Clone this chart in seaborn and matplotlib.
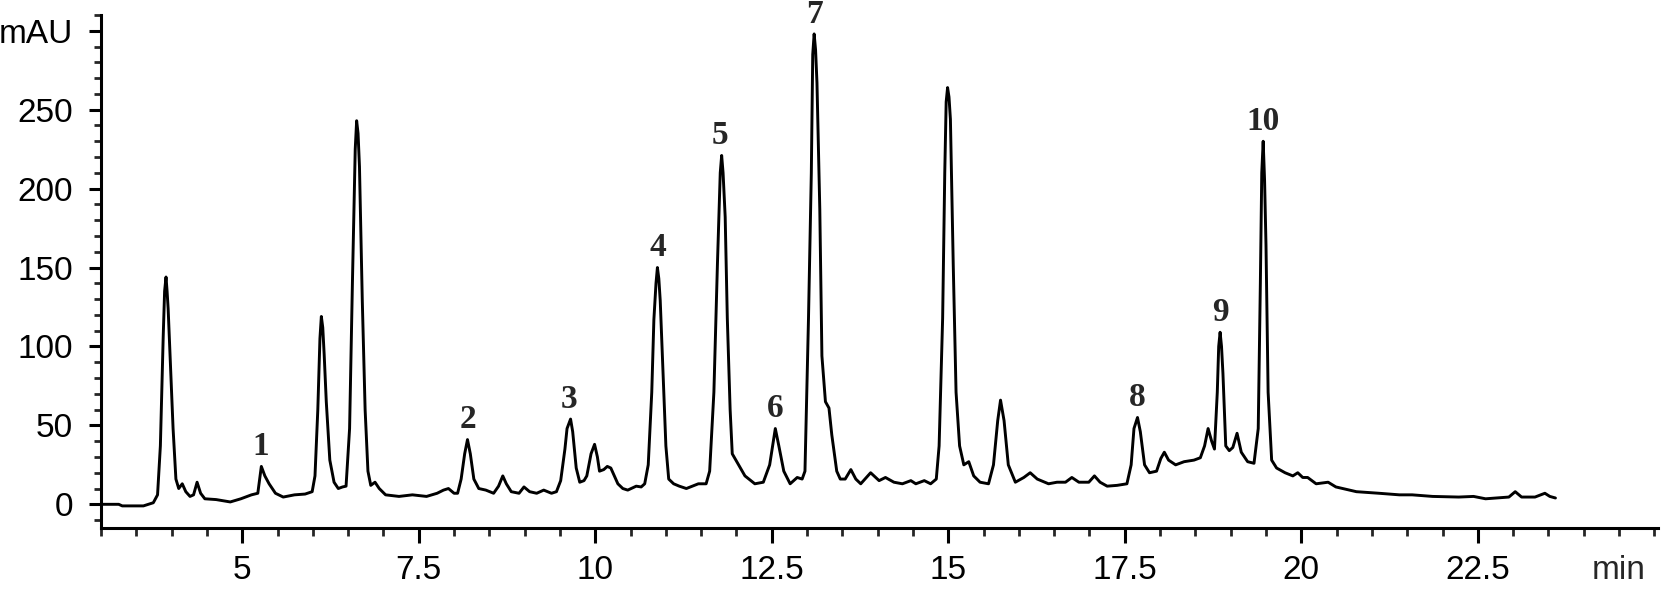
import matplotlib
matplotlib.use('Agg')
import pandas as pd
import matplotlib.pyplot as plt
from matplotlib.ticker import MultipleLocator, FixedLocator
import seaborn as sns

# chromatogram trace (retention time in min, signal in mAU)
time_min = [
    3.00, 3.25, 3.30, 3.60, 3.74, 3.80, 3.84, 3.88, 3.90, 3.92, 3.935, 3.95, 3.98, 4.02, 4.06, 4.10,
    4.15, 4.20, 4.26, 4.31, 4.36, 4.41, 4.47, 4.63, 4.83, 4.98, 5.13, 5.22, 5.27, 5.32,
    5.38, 5.47, 5.58, 5.74, 5.89, 5.99, 6.03, 6.07, 6.10, 6.12, 6.14, 6.16, 6.19, 6.24,
    6.30, 6.36, 6.42, 6.47, 6.52, 6.56, 6.60, 6.62, 6.64, 6.66, 6.70, 6.74, 6.78, 6.82, 6.88, 6.94, 7.03,
    7.22, 7.41, 7.61, 7.76, 7.85, 7.92, 8.00, 8.05, 8.10, 8.15, 8.19, 8.23, 8.28, 8.35,
    8.45, 8.56, 8.63, 8.69, 8.74, 8.81, 8.92, 8.99, 9.07, 9.17, 9.27, 9.38, 9.45, 9.51,
    9.57, 9.60, 9.65, 9.68, 9.73, 9.78, 9.84, 9.88, 9.94, 9.99, 10.03, 10.06, 10.12,
    10.17, 10.22, 10.27, 10.32, 10.39, 10.46, 10.58, 10.65, 10.70, 10.75, 10.80, 10.83, 10.86,
    10.88, 10.90, 10.92, 10.96, 11.00, 11.04, 11.11, 11.19,
    11.29, 11.46, 11.57, 11.62, 11.68, 11.73, 11.77, 11.79, 11.81, 11.84, 11.87, 11.91, 11.94, 12.03,
    12.12, 12.26, 12.38, 12.47, 12.55, 12.60, 12.67, 12.76, 12.86, 12.93, 12.97, 13.02,
    13.06, 13.08, 13.10, 13.12, 13.14, 13.18, 13.21, 13.26, 13.31, 13.35, 13.42, 13.47, 13.54, 13.62,
    13.69, 13.76, 13.90, 14.02, 14.11, 14.23, 14.35, 14.47, 14.54, 14.66, 14.75, 14.83,
    14.87, 14.92, 14.95, 14.97, 14.99, 15.01, 15.03, 15.07, 15.11, 15.16, 15.22, 15.29,
    15.36, 15.45, 15.57, 15.64, 15.70, 15.74, 15.79, 15.85, 15.95, 16.07, 16.16, 16.26,
    16.42, 16.54, 16.66, 16.75, 16.85, 16.99, 17.07, 17.15, 17.25, 17.39, 17.53, 17.59,
    17.63, 17.68, 17.72, 17.78, 17.85, 17.95, 18.01, 18.06, 18.12, 18.22, 18.34, 18.48,
    18.57, 18.63, 18.68, 18.73, 18.77, 18.81, 18.83, 18.85, 18.87, 18.89, 18.93, 18.98, 19.03, 19.09,
    19.15, 19.24, 19.33,
    19.39, 19.42, 19.44, 19.46, 19.48, 19.50, 19.53, 19.58, 19.65, 19.77, 19.88, 19.95, 20.02, 20.09,
    20.21, 20.38, 20.49, 20.78, 21.10, 21.39, 21.57, 21.86, 22.23, 22.44, 22.61, 22.94,
    23.03, 23.12, 23.31, 23.45, 23.52, 23.60,
]
signal_mau = [
    0, 0, -1, -1, 1, 6, 37, 106, 135, 144, 135, 124, 92, 48, 16, 10,
    13, 8, 5, 6, 14, 7, 3.5, 3, 1.5, 3.5, 6, 7, 24, 18,
    13, 7, 4.6, 6, 6.5, 8, 18, 60, 105, 119, 112, 95, 65, 28,
    14, 10, 11, 11.5, 48, 140, 225, 243, 235, 214, 129, 60, 21, 12, 14, 10, 6,
    5, 6, 5, 7, 9, 10, 7, 7, 16, 32, 41, 32, 16, 10,
    9, 7, 11.5, 18, 13, 8, 7, 11, 8, 7, 9, 7, 8, 15,
    35, 48, 54, 46, 23, 14, 15, 18, 32, 38, 30, 21, 22,
    24, 23, 18, 13, 10, 9, 11.5, 11, 13, 25, 71, 117, 140,
    150, 143, 129, 83, 37, 16, 13, 11.5,
    10, 13, 13, 21, 71, 152, 210, 221, 210, 182, 118, 60, 32, 25,
    18, 13, 14, 25, 48, 37, 21, 13, 17, 16, 21, 118,
    210, 285, 298, 288, 267, 187, 94, 65, 61, 44, 21, 16, 16, 22,
    16, 13, 20, 15, 17, 14, 13, 15, 13, 15, 13, 16,
    37, 118, 210, 255, 264, 258, 244, 152, 71, 37, 25, 27,
    18, 14, 13, 25, 53, 66, 53, 25, 14, 17, 20, 16,
    13, 14, 14, 17, 14, 14, 18, 14, 11.5, 12, 13, 25,
    48, 55, 46, 25, 20, 21, 29, 33, 28, 25, 27, 28,
    29.5, 37, 48, 40, 35, 71, 100, 109, 100, 83, 37, 34, 36, 45,
    33, 27, 26,
    48, 140, 210, 230, 205, 164, 71, 28, 23, 20, 18, 20, 17, 17,
    13, 14, 11, 8, 7, 6, 6, 5, 4.6, 5, 3.5, 4.6,
    8, 4.6, 4.6, 7, 5, 4,
]

# numbered compounds
peak_names = ['1', '2', '3', '4', '5', '6', '7', '8', '9', '10']
peak_rt = [5.26, 8.19, 9.63, 10.88, 11.76, 12.55, 13.10, 17.68, 18.85, 19.46]
peak_top = [24, 41, 54, 150, 221, 48, 298, 55, 109, 230]

x_major = [5, 7.5, 10, 12.5, 15, 17.5, 20, 22.5]
x_labels = ['5', '7.5', '10', '12.5', '15', '17.5', '20', '22.5']
y_major = [0, 50, 100, 150, 200, 250, 300]
y_labels = ['0', '50', '100', '150', '200', '250', 'mAU']

sns.set_style('ticks')
plt.rcParams['font.family'] = ['Liberation Sans', 'DejaVu Sans']

df = pd.DataFrame({'t': time_min, 'v': signal_mau})

fig = plt.figure(figsize=(16.65, 5.9), dpi=100)
ax = fig.add_axes([0.0607, 0.1051, 0.935, 0.8695])

sns.lineplot(data=df, x='t', y='v', color='black', linewidth=2.1,
             estimator=None, sort=False, ax=ax)
ax.lines[0].set_solid_joinstyle('round')

ax.set_xlim(3, 25.05)
ax.set_ylim(-15, 310)
ax.set_xlabel('')
ax.set_ylabel('')

ax.xaxis.set_major_locator(FixedLocator(x_major))
ax.set_xticklabels(x_labels)
ax.xaxis.set_minor_locator(MultipleLocator(0.5))
ax.yaxis.set_major_locator(FixedLocator(y_major))
ax.set_yticklabels(y_labels)
ax.yaxis.set_minor_locator(MultipleLocator(10))

sns.despine(ax=ax)
for s in ['left', 'bottom']:
    ax.spines[s].set_linewidth(2.2)
    ax.spines[s].set_color('black')

ax.tick_params(axis='x', which='major', length=10.5, width=2.2, pad=9,
               labelsize=24, colors='black')
ax.tick_params(axis='x', which='minor', length=5.5, width=2)
ax.tick_params(axis='y', which='major', length=9, width=2.2, pad=11,
               labelsize=24, colors='black')
ax.tick_params(axis='y', which='minor', length=5, width=2)

# unit label sits on the x tick-label row, under the 24.5 min tick
ax.annotate('min', xy=(24.5, 0), xycoords=('data', 'axes fraction'),
            xytext=(0, -19.5), textcoords='offset points',
            ha='center', va='top', fontsize=24, annotation_clip=False)

for name, rt, top in zip(peak_names, peak_rt, peak_top):
    ax.annotate(name, xy=(rt, top), xytext=(0, 8), textcoords='offset points',
                ha='center', va='baseline', fontsize=24,
                family=['Liberation Serif', 'DejaVu Serif'],
                weight='bold', annotation_clip=False)

fig.savefig('out.png', dpi=100)
